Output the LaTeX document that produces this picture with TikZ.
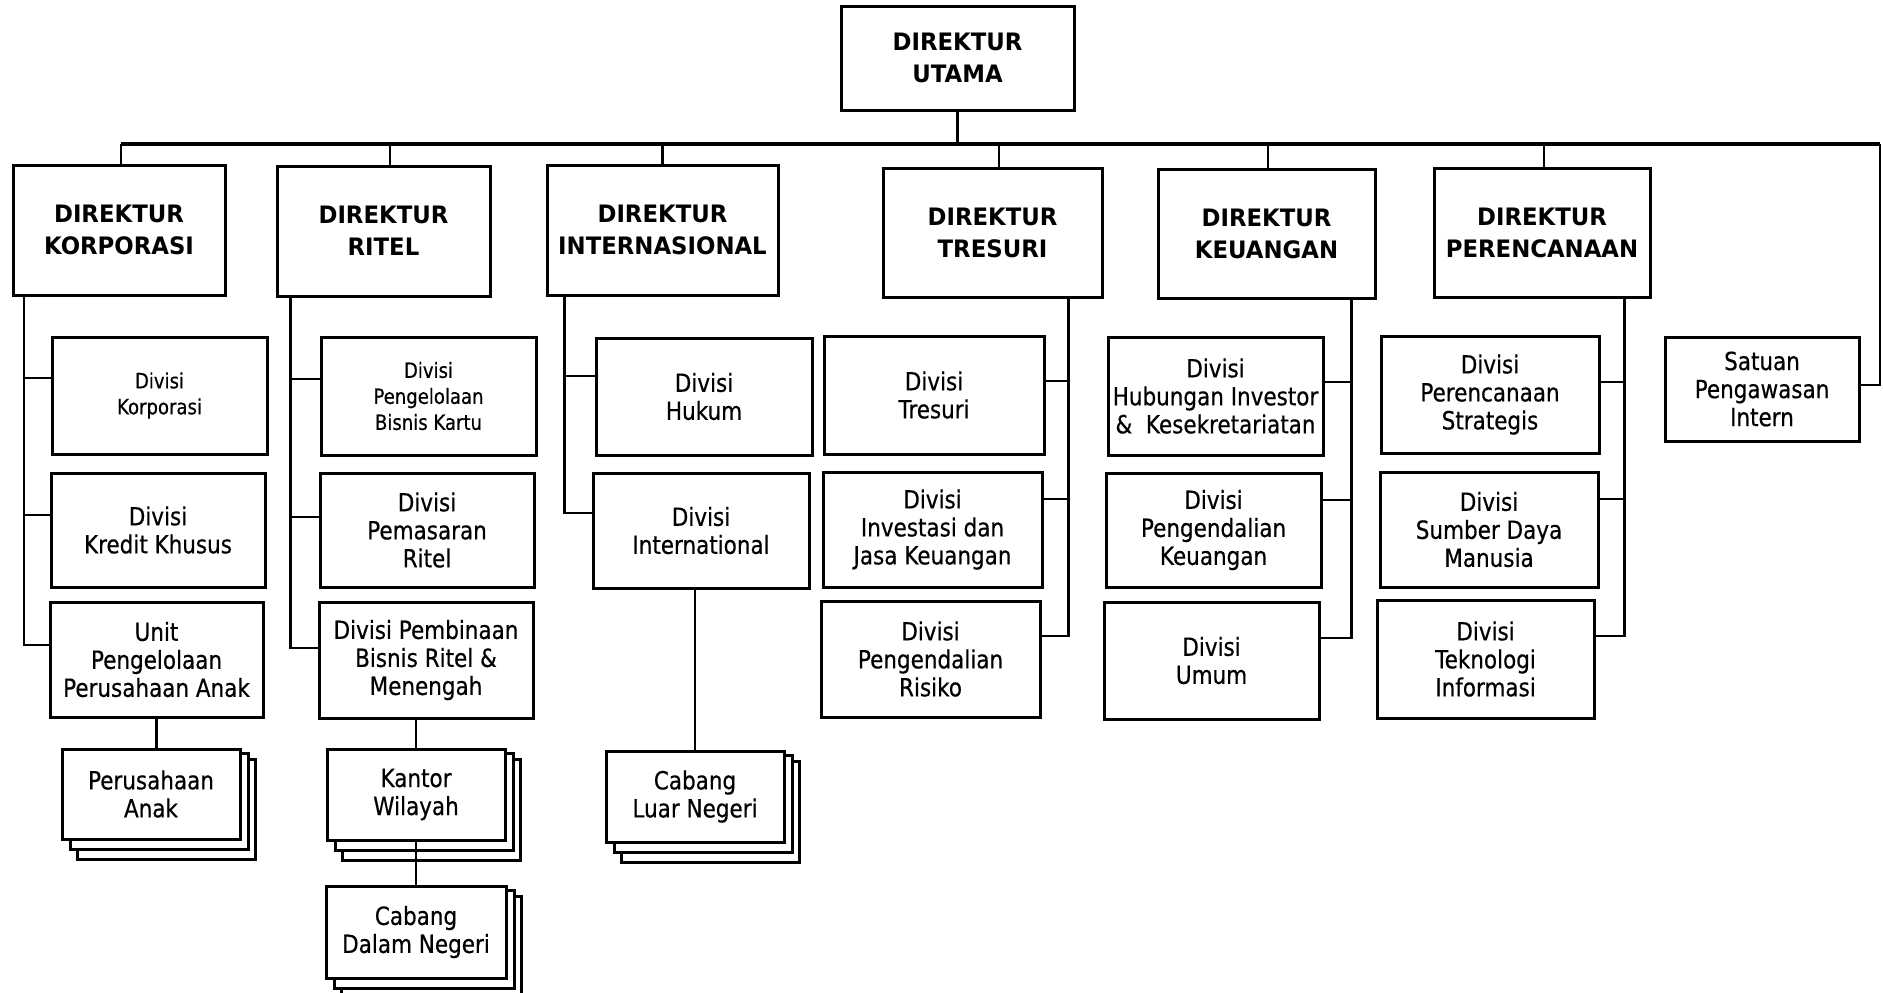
\documentclass[tikz,border=0pt]{standalone}
\usepackage{fontspec}
\setmainfont{DejaVu Sans}[FakeStretch=0.86,FakeBold=0.5]
\newfontfamily\dirfont{DejaVu Sans}[FakeStretch=0.95]
\tikzset{
  box/.style={draw, line width=1.5pt, fill=white, inner sep=0pt, align=center,
    font=\fontsize{12.5}{14}\selectfont},
  dirbox/.style={font=\dirfont\bfseries\fontsize{12}{16}\selectfont},
  smallbox/.style={font=\fontsize{10.5}{13}\selectfont},
  layer/.style={draw, line width=1.5pt, fill=white},
  conn/.style={line width=1.1pt},
}
\newcommand\mybox[7][]{\node[box,#1,minimum width={(#5-#3)*0.5pt},minimum height={(#6-#4)*0.5pt}] (#2) at ({(#3+#5)/2},{(#4+#6)/2}) {#7};}
\newcommand\mystack[6]{%
  \draw[layer] (#3+15,#4+10) rectangle (#5+15,#6+20);
  \draw[layer] (#3+8,#4+4) rectangle (#5+8,#6+10);
  \mybox{#2}{#3}{#4}{#5}{#6}{#1}}
\begin{document}
\begin{tikzpicture}[x=0.5pt,y=-0.5pt]
\useasboundingbox[fill=white] (0,0) rectangle (1883,992);
% directors
\mybox[dirbox]{utama}{841}{6}{1074}{110}{DIREKTUR\\UTAMA}
\mybox[dirbox]{korp}{13}{165}{225}{295}{DIREKTUR\\KORPORASI}
\mybox[dirbox]{ritel}{277}{166}{490}{296}{DIREKTUR\\RITEL}
\mybox[dirbox]{intl}{547}{165}{778}{295}{DIREKTUR\\INTERNASIONAL}
\mybox[dirbox]{tres}{883}{168}{1102}{297}{DIREKTUR\\TRESURI}
\mybox[dirbox]{keu}{1158}{169}{1375}{298}{DIREKTUR\\KEUANGAN}
\mybox[dirbox]{pren}{1434}{168}{1650}{297}{DIREKTUR\\PERENCANAAN}
% column 1
\mybox[smallbox]{dkorp}{52}{337}{267}{454}{Divisi\\Korporasi}
\mybox{kredit}{51}{473}{265}{587}{Divisi\\Kredit Khusus}
\mybox{unit}{50}{602}{263}{717}{Unit\\Pengelolaan\\Perusahaan Anak}
% column 2
\mybox[smallbox]{kartu}{321}{337}{536}{455}{Divisi\\Pengelolaan\\Bisnis Kartu}
\mybox{pemasaran}{320}{473}{534}{587}{Divisi\\Pemasaran\\Ritel}
\mybox{pembinaan}{319}{602}{533}{718}{Divisi Pembinaan\\Bisnis Ritel \&\\Menengah}
% column 3
\mybox{hukum}{596}{338}{812}{455}{Divisi\\Hukum}
\mybox{intdiv}{593}{473}{809}{588}{Divisi\\International}
% column 4
\mybox{dtres}{824}{336}{1044}{454}{Divisi\\Tresuri}
\mybox{invest}{823}{472}{1042}{587}{Divisi\\Investasi dan\\Jasa Keuangan}
\mybox{risiko}{821}{601}{1040}{717}{Divisi\\Pengendalian\\Risiko}
% column 5
\mybox{hub}{1108}{337}{1323}{455}{Divisi\\Hubungan Investor\\\&\ \ Kesekretariatan}
\mybox{pkeu}{1106}{473}{1321}{587}{Divisi\\Pengendalian\\Keuangan}
\mybox{umum}{1104}{602}{1319}{719}{Divisi\\Umum}
% column 6
\mybox{strat}{1381}{336}{1599}{453}{Divisi\\Perencanaan\\Strategis}
\mybox{sdm}{1380}{472}{1598}{587}{Divisi\\Sumber Daya\\Manusia}
\mybox{ti}{1377}{600}{1594}{718}{Divisi\\Teknologi\\Informasi}
% satuan
\mybox{satuan}{1665}{337}{1859}{441}{Satuan\\Pengawasan\\Intern}
% stacks
\mystack{Perusahaan\\Anak}{anak}{62}{749}{240}{839}
\mystack{Kantor\\Wilayah}{kantor}{327}{749}{505}{840}
\mystack{Cabang\\Dalam Negeri}{cabdn}{326}{886}{506}{978}
\mystack{Cabang\\Luar Negeri}{cabln}{606}{751}{784}{842}
% bus
\coordinate (busL) at (121,144);
\coordinate (busR) at (1880,144);
\draw[conn,line width=1.6pt] (busL) -- (busR);
\draw[conn] (busR) |- ([yshift=2pt]satuan.east);
\draw[conn] (utama.south) -- (utama.south |- busL);
\draw[conn] ([xshift=1pt]korp.north) -- ([xshift=1pt]korp.north |- busL);
\draw[conn] ([xshift=3.25pt]ritel.north) -- ([xshift=3.25pt]ritel.north |- busL);
\draw[conn] (intl.north) -- (intl.north |- busL);
\draw[conn] ([xshift=3.25pt]tres.north) -- ([xshift=3.25pt]tres.north |- busL);
\draw[conn] ([xshift=0.75pt]keu.north) -- ([xshift=0.75pt]keu.north |- busL);
\draw[conn] ([xshift=1pt]pren.north) -- ([xshift=1pt]pren.north |- busL);
% korporasi branch
\draw[conn] ([xshift=6.25pt]korp.south west) |- ([yshift=7.25pt]unit.west);
\draw[conn] ([xshift=6.25pt]korp.south west) |- ([yshift=8.75pt]dkorp.west);
\draw[conn] ([xshift=6.25pt]korp.south west) |- ([yshift=7.5pt]kredit.west);
% ritel branch
\draw[conn] ([xshift=7.5pt]ritel.south west) |- ([yshift=6pt]pembinaan.west);
\draw[conn] ([xshift=7.5pt]ritel.south west) |- ([yshift=8.5pt]kartu.west);
\draw[conn] ([xshift=7.5pt]ritel.south west) |- ([yshift=6.5pt]pemasaran.west);
% internasional branch
\draw[conn] ([xshift=9.5pt]intl.south west) |- ([yshift=8.75pt]intdiv.west);
\draw[conn] ([xshift=9.5pt]intl.south west) |- ([yshift=10.25pt]hukum.west);
% tresuri branch
\draw[conn] ([xshift=-17.5pt]tres.south east) |- ([yshift=11.5pt]risiko.east);
\draw[conn] ([xshift=-17.5pt]tres.south east) |- ([yshift=7pt]dtres.east);
\draw[conn] ([xshift=-17.5pt]tres.south east) |- ([yshift=15.25pt]invest.east);
% keuangan branch
\draw[conn] ([xshift=-12.5pt]keu.south east) |- ([yshift=11.25pt]umum.east);
\draw[conn] ([xshift=-12.5pt]keu.south east) |- ([yshift=7pt]hub.east);
\draw[conn] ([xshift=-12.5pt]keu.south east) |- ([yshift=15pt]pkeu.east);
% perencanaan branch
\draw[conn] ([xshift=-13.5pt]pren.south east) |- ([yshift=11.5pt]ti.east);
\draw[conn] ([xshift=-13.5pt]pren.south east) |- ([yshift=6.25pt]strat.east);
\draw[conn] ([xshift=-13.5pt]pren.south east) |- ([yshift=15.25pt]sdm.east);
% lower stems
\draw[conn] (unit.south) -- (unit.south |- anak.north);
\draw[conn] (kantor.north) -- (kantor.north |- pembinaan.south);
\draw[conn] (kantor.south) -- (cabdn.north);
\draw[conn] (cabln.north) -- (cabln.north |- intdiv.south);
\end{tikzpicture}
\end{document}
